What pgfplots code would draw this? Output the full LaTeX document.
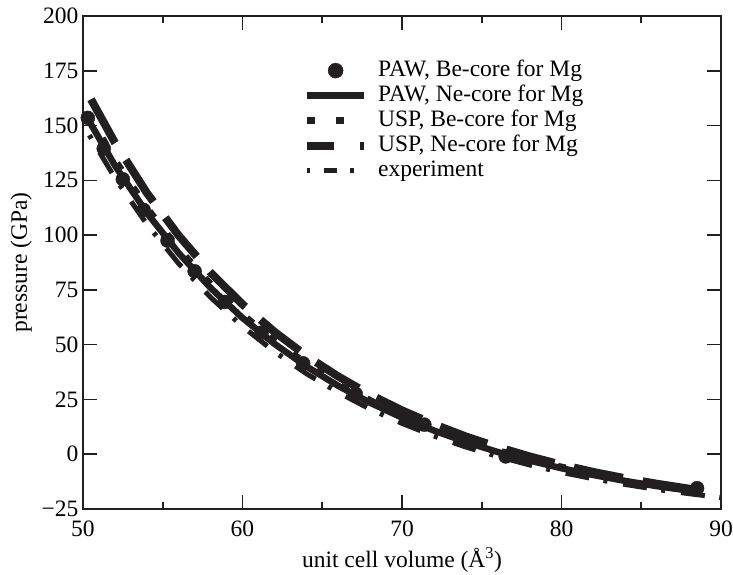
\documentclass[border=0pt]{standalone}
\usepackage{fontspec}
\setmainfont{Liberation Serif}
\usepackage{pgfplots}
\pgfplotsset{compat=1.18}
\definecolor{ink}{RGB}{35,31,32}

\begin{document}
\begin{tikzpicture}[font=\fontsize{23.5}{28}\selectfont]
\begin{axis}[
    width=638pt, height=493pt, scale only axis,
    xmin=50, xmax=90, ymin=-25, ymax=200,
    xtick={50,60,70,80,90}, minor xtick={55,65,75,85},
    xticklabels={50,60,70,80,90},
    ytick={-25,0,25,50,75,100,125,150,175,200},
    yticklabels={−25,0,25,50,75,100,125,150,175,200},
    tick align=inside,
    major tick length=14pt, minor tick length=7pt,
    axis line style={line width=1.6pt, ink},
    every tick/.style={line width=1.6pt, ink},
    yticklabel style={xshift=-1pt},
    xticklabel style={yshift=-8pt},
    xlabel={unit cell volume (Å\textsuperscript{3})},
    ylabel={pressure (GPa)},
    xlabel style={at={(axis description cs:0.5,-0.104)}, anchor=center},
    ylabel style={at={(axis description cs:-0.097,0.5)}, anchor=center},
    legend style={at={(axis description cs:0.340,0.919)}, anchor=north west,
        draw=none, fill=none, legend cell align=left, row sep=0pt, column sep=6pt,
        nodes={text height=16pt, text depth=5pt, inner ysep=2pt, inner xsep=4pt}},
]
% PAW, Be-core
\addplot[only marks, mark=*, mark size=7pt, ink,
    legend image code/.code={\path (0pt,0pt) (57pt,0pt); \fill[ink] (28.5pt,0pt) circle (7.5pt);}]
coordinates {(50.3,153.5) (51.3,139.5) (52.5,125.5) (53.8,111.5) (55.3,97.5)
             (57.0,83.5) (58.9,69.5) (61.2,55.5) (63.8,41.5) (67.1,27.5)
             (71.4,13.5) (76.5,-1.0) (88.5,-15.5)};
\addlegendentry{PAW, Be-core for Mg}
% PAW, Ne-core
\addplot[ink, line width=6.5pt,
    legend image code/.code={\draw[ink, line width=6.5pt] (0pt,0pt) -- (57pt,0pt);}]
coordinates {(50.3,153.1) (52,131.8) (54,110.2) (56,91.8) (58,75.9) (60,62.2)
             (62,50.4) (64,40.1) (66,31.2) (68,23.5) (70,16.7) (72,10.8)
             (74,5.6) (76,1.0) (78,-2.9) (80,-6.4) (82,-9.5) (84,-12.2)
             (86,-14.6) (88.5,-17.1)};
\addlegendentry{PAW, Ne-core for Mg}
% USP, Be-core
\addplot[ink, line width=7pt, dash pattern=on 8pt off 21pt,
    legend image code/.code={\path (0pt,0pt) (57pt,0pt); \draw[ink, line width=7pt, dash pattern=on 8pt off 21pt] (0pt,0pt) -- (37pt,0pt);}]
coordinates {(50.3,155.7) (52,134.2) (54,112.3) (56,93.7) (58,77.6) (60,63.7)
             (62,51.7) (64,41.3) (66,32.3) (68,24.5) (70,17.6) (72,11.6)
             (74,6.3) (76,1.6) (78,-2.3) (80,-5.9) (82,-9.0) (84,-11.8)
             (86,-14.2) (88.5,-16.8)};
\addlegendentry{USP, Be-core for Mg}
% USP, Ne-core
\addplot[ink, line width=8pt, dash pattern=on 50pt off 20pt,
    legend image code/.code={\draw[ink, line width=8pt, dash pattern=on 27pt off 26pt on 4pt off 20pt] (0pt,0pt) -- (57pt,0pt);}]
coordinates {(50.5,162.0) (52,142.2) (54,119.3) (56,99.8) (58,82.9) (60,68.4)
             (62,55.9) (64,44.9) (66,35.5) (68,27.2) (70,20.0) (72,13.7)
             (74,8.1) (76,3.3) (78,-1.0) (80,-4.8) (82,-8.1) (84,-11.0)
             (86,-13.5) (88.5,-16.3)};
\addlegendentry{USP, Ne-core for Mg}
% experiment
\addplot[ink, line width=5pt, dash pattern=on 4pt off 16pt on 24pt off 14.5pt,
    legend image code/.code={\path (0pt,0pt) (57pt,0pt); \draw[ink, line width=4.5pt, dash pattern=on 3pt off 14pt on 13pt off 13pt on 4pt off 20pt] (0pt,0pt) -- (47pt,0pt);}]
coordinates {(50.4,145.6) (52,126.1) (54,105.0) (56,87.0) (58,71.6) (60,58.3)
             (62,46.8) (64,36.8) (66,28.2) (68,20.6) (70,14.1) (72,8.3)
             (74,3.3) (76,-1.0) (78,-4.9) (80,-8.3) (82,-11.2) (84,-13.8)
             (86,-16.1) (88,-18.0) (90,-19.8)};
\addlegendentry{experiment}
\end{axis}
\pgfresetboundingbox
\useasboundingbox ([shift={(-83pt,-66pt)}]current axis.south west) rectangle ([shift={(12pt,16pt)}]current axis.north east);
\end{tikzpicture}
\end{document}
